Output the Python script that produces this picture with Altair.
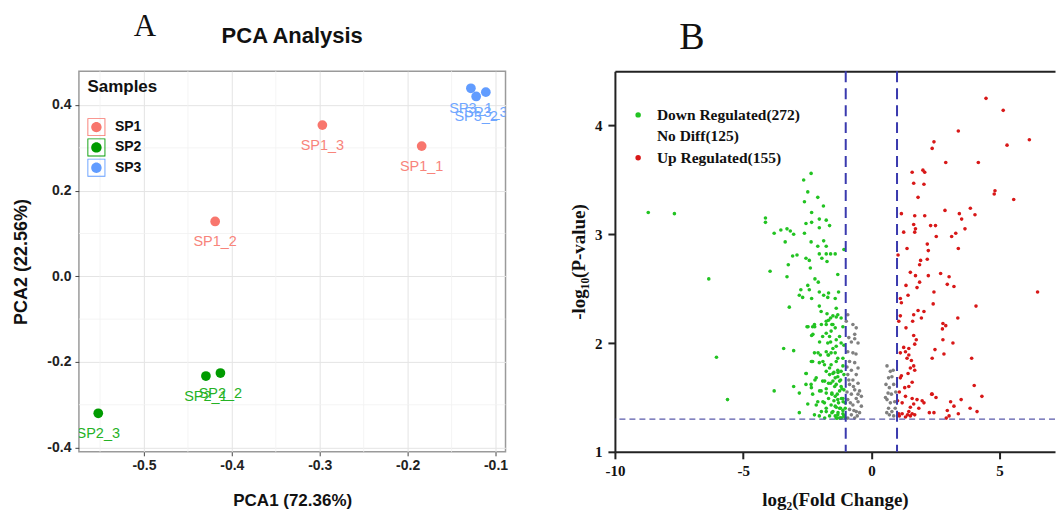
import altair as alt
import pandas as pd

SANS = "Liberation Sans"
SERIF = "Liberation Serif"

# ---------------- Panel A : PCA ----------------
pca_samples = ["SP1_1", "SP1_2", "SP1_3", "SP2_1", "SP2_2", "SP2_3", "SP3_1", "SP3_2", "SP3_3"]
pca_groups = ["SP1", "SP1", "SP1", "SP2", "SP2", "SP2", "SP3", "SP3", "SP3"]
pca1_vals = [-0.184, -0.419, -0.297, -0.4295, -0.413, -0.552, -0.128, -0.122, -0.111]
pca2_vals = [0.304, 0.128, 0.353, -0.233, -0.226, -0.320, 0.439, 0.420, 0.430]
group_names = ["SP1", "SP2", "SP3"]
group_colors = ["#F8766D", "#009B00", "#619CFF"]
group_label_colors = ["#F8847B", "#25B225", "#6FA6FF"]
pca_x_ticks = [-0.5, -0.4, -0.3, -0.2, -0.1]
pca_y_ticks = [-0.4, -0.2, 0.0, 0.2, 0.4]
pca_minor_x = [-0.55, -0.45, -0.35, -0.25, -0.15]
pca_minor_y = [-0.3, -0.1, 0.1, 0.3]

# ---------------- Panel B : volcano ----------------
DOWN_LABEL = "Down Regulated(272)"
NODIFF_LABEL = "\u00a0No Diff(125)"
UP_LABEL = "Up Regulated(155)"

down_pts = [
    (-8.70, 3.20), (-7.68, 3.19), (-6.34, 2.59), (-6.04, 1.87), (-5.61, 1.48), (-4.13, 3.15), (-4.13, 3.11),
    (-2.35, 3.56), (-2.64, 3.50), (-2.48, 3.39), (-2.61, 3.30), (-2.09, 3.34), (-1.87, 3.26), (-2.33, 3.20),
    (-2.33, 3.11), (-2.55, 3.10), (-2.03, 3.14), (-1.76, 3.13), (-1.63, 3.08), (-3.79, 3.01), (-3.53, 3.04),
    (-3.29, 3.05), (-3.16, 3.03), (-3.03, 3.00), (-2.61, 3.01), (-2.03, 3.06), (-2.35, 2.93), (-3.36, 2.93),
    (-1.86, 2.94), (-2.09, 2.89), (-1.76, 2.89), (-3.07, 2.80), (-2.90, 2.81), (-2.55, 2.78), (-2.42, 2.76),
    (-2.03, 2.82), (-1.93, 2.78), (-1.76, 2.82), (-1.59, 2.82), (-1.41, 2.82), (-1.07, 2.86), (-1.73, 2.75),
    (-3.95, 2.66), (-3.24, 2.72), (-3.29, 2.61), (-2.38, 2.69), (-1.31, 2.63), (-2.20, 2.59), (-2.07, 2.56),
    (-2.75, 2.49), (-2.81, 2.44), (-2.68, 2.42), (-2.48, 2.53), (-2.42, 2.49), (-2.03, 2.47), (-1.86, 2.44),
    (-1.67, 2.46), (-1.70, 2.42), (-1.28, 2.47), (-1.41, 2.41), (-2.33, 2.41), (-3.20, 2.33), (-2.03, 2.34),
    (-1.96, 2.29), (-1.73, 2.27), (-1.59, 2.23), (-1.50, 2.25), (-1.37, 2.32), (-1.31, 2.26), (-1.76, 2.20),
    (-1.76, 2.17), (-2.51, 2.15), (-2.29, 2.15), (-2.22, 2.17), (-1.50, 2.17), (-1.41, 2.14), (-1.57, 2.11),
    (-1.18, 2.23), (-1.11, 2.15), (-2.33, 2.07), (-1.90, 2.06), (-1.63, 2.06), (-1.37, 2.03), (-1.24, 2.06),
    (-1.70, 2.00), (-1.37, 1.97), (-1.18, 2.00), (-1.07, 1.98), (-3.42, 1.95), (-3.03, 1.93), (-1.76, 1.92),
    (-1.67, 1.89), (-1.57, 1.91), (-1.41, 1.91), (-2.22, 1.91), (-1.99, 1.89), (-1.31, 1.86), (-1.11, 1.86),
    (-2.29, 1.83), (-2.03, 1.82), (-1.83, 1.80), (-1.57, 1.80), (-1.37, 1.83), (-1.31, 1.75), (-1.11, 1.79),
    (-1.76, 1.74), (-1.63, 1.71), (-1.46, 1.73), (-1.18, 1.74), (-2.55, 1.72), (-1.31, 1.69), (-1.20, 1.66),
    (-1.07, 1.71), (-1.90, 1.65), (-1.67, 1.63), (-1.50, 1.65), (-1.37, 1.62), (-2.20, 1.66), (-2.35, 1.62),
    (-3.03, 1.60), (-2.55, 1.62), (-1.18, 1.60), (-1.07, 1.57), (-1.24, 1.56), (-1.96, 1.56), (-1.76, 1.54),
    (-1.54, 1.53), (-1.41, 1.51), (-3.79, 1.56), (-2.81, 1.54), (-2.29, 1.53), (-1.31, 1.48), (-1.11, 1.49),
    (-1.02, 1.45), (-2.09, 1.46), (-1.83, 1.45), (-1.57, 1.43), (-1.41, 1.42), (-2.48, 1.44), (-1.24, 1.40),
    (-1.11, 1.38), (-1.02, 1.40), (-1.76, 1.37), (-1.54, 1.36), (-1.31, 1.34), (-2.22, 1.34), (-2.03, 1.33),
    (-1.37, 1.31), (-1.20, 1.31), (-1.07, 1.33), (-1.02, 1.31), (-2.81, 1.36),
    (-1.50, 1.72), (-1.41, 1.68), (-1.30, 1.73), (-1.59, 1.63), (-1.43, 1.60), (-1.24, 1.65), (-1.15, 1.58),
    (-1.54, 1.54), (-1.33, 1.53), (-1.17, 1.49), (-1.46, 1.47), (-1.28, 1.45), (-1.10, 1.46), (-1.37, 1.41),
    (-1.20, 1.40), (-1.50, 1.37), (-1.30, 1.36), (-1.11, 1.35), (-1.41, 1.33), (-1.23, 1.31), (-1.07, 1.33),
    (-1.33, 1.31), (-1.17, 1.31), (-1.67, 1.49), (-1.76, 1.58), (-1.82, 1.65), (-1.63, 1.77), (-1.89, 1.83),
    (-1.69, 1.89), (-1.50, 1.95), (-1.59, 2.01), (-1.76, 2.09), (-1.54, 2.17), (-1.37, 2.24), (-1.67, 2.21),
    (-1.95, 2.17), (-2.21, 2.15), (-2.47, 2.15), (-2.28, 2.08), (-2.02, 2.01), (-2.08, 1.91), (-2.34, 1.83),
    (-2.54, 1.72), (-2.15, 1.68), (-2.34, 1.59), (-2.02, 1.56), (-1.89, 1.46), (-2.15, 1.43), (-1.76, 1.40),
    (-1.63, 1.33), (-1.82, 1.31), (-1.95, 1.37),
]

nodiff_pts = [
    (-0.92, 2.26), (-0.72, 2.17), (-0.59, 2.14), (-0.65, 2.08), (-0.78, 2.01), (-0.52, 2.00), (-0.92, 1.92),
    (-0.72, 1.91), (-0.85, 1.83), (-0.65, 1.82), (-0.52, 1.77), (-0.78, 1.75), (-0.92, 1.71), (-0.59, 1.71),
    (-0.72, 1.66), (-0.52, 1.63), (-0.85, 1.62), (-0.65, 1.57), (-0.46, 1.56), (-0.78, 1.53), (-0.59, 1.49),
    (-0.92, 1.48), (-0.52, 1.46), (-0.72, 1.43), (-0.39, 1.42), (-0.85, 1.39), (-0.59, 1.37), (-0.46, 1.36),
    (-0.78, 1.34), (-0.65, 1.31), (-0.92, 1.31), (-0.52, 1.53), (-0.39, 1.51), (-0.65, 2.04), (-0.98, 2.20),
    (-0.88, 2.05), (-0.95, 1.78), (-0.60, 1.90), (-0.70, 1.60), (-0.82, 1.45), (-0.55, 1.33), (-0.95, 1.55),
    (-0.68, 1.38), (-0.88, 1.66),
    (0.61, 1.79), (0.74, 1.74), (0.67, 1.68), (0.80, 1.69), (0.57, 1.62), (0.70, 1.59), (0.87, 1.62),
    (0.65, 1.54), (0.78, 1.53), (0.61, 1.48), (0.74, 1.45), (0.91, 1.46), (0.67, 1.40), (0.80, 1.37),
    (0.93, 1.40), (0.70, 1.34), (0.87, 1.33), (0.55, 1.50), (0.95, 1.55), (0.85, 1.75), (0.60, 1.36),
]

up_pts = [
    (2.44, 3.85), (2.37, 3.79), (2.90, 3.66), (1.59, 3.57), (2.01, 3.59), (2.08, 3.57), (1.65, 3.47),
    (2.05, 3.46), (1.82, 3.34), (1.17, 3.19), (1.69, 3.17), (2.08, 3.17), (2.87, 3.22), (1.26, 3.02),
    (1.65, 3.09), (1.72, 3.05), (1.69, 3.02), (2.31, 3.08), (2.50, 3.08), (2.53, 2.98), (3.13, 2.98),
    (3.29, 3.01), (1.39, 2.87), (2.18, 2.91), (2.22, 2.85), (1.04, 2.81), (1.92, 2.76), (1.88, 2.72),
    (2.18, 2.77), (1.52, 2.65), (1.72, 2.62), (2.22, 2.62), (2.70, 2.64), (3.03, 2.61), (2.96, 2.54),
    (3.22, 2.52), (1.88, 2.56), (1.78, 2.51), (1.35, 2.53), (1.43, 2.44), (2.44, 2.47), (2.41, 2.36),
    (1.13, 2.41), (1.17, 2.37), (1.82, 2.30), (1.65, 2.26), (2.05, 2.29), (1.13, 2.25), (1.07, 2.20),
    (1.61, 2.20), (1.95, 2.23), (2.79, 2.18), (2.90, 2.16), (2.77, 2.13), (1.35, 2.14), (1.65, 2.07),
    (1.75, 2.03), (1.69, 1.99), (2.79, 2.03), (3.18, 2.00), (1.26, 1.96), (1.46, 1.95), (1.33, 1.92),
    (1.13, 1.91), (1.46, 1.89), (1.39, 1.86), (1.56, 1.84), (1.65, 1.79), (1.52, 1.77), (1.69, 1.75),
    (1.43, 1.72), (2.48, 1.94), (2.37, 1.86), (1.17, 1.70), (1.13, 1.68), (1.59, 1.64), (1.46, 1.60),
    (1.30, 1.59), (1.09, 1.55), (1.33, 1.51), (1.59, 1.49), (1.02, 1.47), (1.20, 1.45), (1.78, 1.48),
    (1.98, 1.47), (2.05, 1.45), (1.65, 1.44), (1.52, 1.41), (1.46, 1.37), (1.85, 1.40), (2.35, 1.53),
    (1.69, 1.34), (1.41, 1.34), (1.20, 1.35), (1.07, 1.35), (1.59, 1.35), (3.09, 1.46), (3.22, 1.42),
    (2.96, 1.38), (3.03, 1.33), (1.09, 1.33), (1.33, 1.32), (1.52, 1.33), (2.44, 1.36), (2.37, 1.53),
    (2.83, 1.90), (2.52, 1.50), (2.26, 1.36), (2.92, 1.31),
    (4.47, 4.25), (5.14, 4.14), (3.39, 3.95), (5.29, 3.82), (6.16, 3.87), (4.17, 3.66), (4.82, 3.40),
    (4.79, 3.37), (5.55, 3.32), (3.86, 3.24), (4.04, 3.18), (3.43, 3.19), (3.52, 3.14), (3.65, 3.05),
    (3.39, 2.87), (6.48, 2.47), (4.08, 2.34), (3.37, 2.23), (3.91, 1.86), (4.01, 1.61), (4.31, 1.51),
    (3.50, 1.48), (3.85, 1.40), (4.12, 1.37), (3.39, 1.35),
]

fc_thresholds = [-1, 1]
p_threshold = [1.301]
volcano_x_ticks = [-10, -5, 0, 5]
volcano_y_ticks = [1, 2, 3, 4]

# ================= Panel A =================
A_WIDTH = 427
PANEL_SPACING = 109.5

pca_df = pd.DataFrame({"sample": pca_samples, "group": pca_groups, "PCA1": pca1_vals, "PCA2": pca2_vals})
minor_x_df = pd.DataFrame({"PCA1": pca_minor_x})
minor_y_df = pd.DataFrame({"PCA2": pca_minor_y})

neg_fmt1 = "datum.value < 0 ? '-' + format(-datum.value, '.1f') : format(datum.value, '.1f')"

xsA = alt.Scale(domain=[-0.574, -0.0886], nice=False, zero=False)
ysA = alt.Scale(domain=[-0.41, 0.479], nice=False, zero=False)

axA_x = alt.Axis(values=pca_x_ticks, labelExpr=neg_fmt1, title="PCA1 (72.36%)", titleFont=SANS,
                 titleFontSize=17, titleFontWeight="bold", titleColor="#111", titlePadding=20,
                 labelFont=SANS, labelFontSize=14, labelFontWeight="bold", labelColor="#222",
                 labelPadding=3, labelFlush=False, tickSize=4, tickColor="#444", tickWidth=1,
                 domain=False, grid=True, gridColor="#e4e4e4", gridWidth=1)
axA_y = alt.Axis(values=pca_y_ticks, labelExpr=neg_fmt1, title="PCA2 (22.56%)", titleFont=SANS,
                 titleFontSize=18, titleFontWeight="bold", titleColor="#111", titlePadding=16,
                 labelFont=SANS, labelFontSize=14, labelFontWeight="bold", labelColor="#222",
                 labelPadding=4, labelFlush=False, tickSize=4, tickColor="#444", tickWidth=1,
                 domain=False, grid=True, gridColor="#e4e4e4", gridWidth=1)

def xA():
    return alt.X("PCA1:Q", scale=xsA, axis=axA_x)

def yA():
    return alt.Y("PCA2:Q", scale=ysA, axis=axA_y)

legend_symbol = ("M-1,-1H1V1H-1Z M-0.9,-0.9V0.9H0.9V-0.9Z "
                 "M0.58,0A0.58,0.58,0,1,1,-0.58,0A0.58,0.58,0,1,1,0.58,0Z")

minorA_x = alt.Chart(minor_x_df).mark_rule(color="#f1f1f1", strokeWidth=0.8).encode(x=xA())
minorA_y = alt.Chart(minor_y_df).mark_rule(color="#f1f1f1", strokeWidth=0.8).encode(y=yA())

pointsA = alt.Chart(pca_df).mark_circle(size=95, opacity=1).encode(
    x=xA(), y=yA(),
    color=alt.Color("group:N", scale=alt.Scale(domain=group_names, range=group_colors),
                    legend=alt.Legend(title="Samples", orient="none", legendX=8.5, legendY=8,
                                      titleFont=SANS, titleFontSize=17, titleFontWeight="bold",
                                      titleColor="#111", titlePadding=22, labelFont=SANS,
                                      labelFontSize=14, labelFontWeight="bold", labelColor="#111",
                                      labelOffset=9.5, symbolSize=324, symbolType=legend_symbol,
                                      symbolStrokeWidth=0, rowPadding=2.3, padding=0)),
)
labelsA = alt.Chart(pca_df).mark_text(dy=21, fontSize=14.5, font=SANS, clip=True, baseline="middle").encode(
    x=xA(), y=yA(), text="sample:N",
    color=alt.Color("group:N", scale=alt.Scale(domain=group_names, range=group_label_colors), legend=None),
)

header_df = pd.DataFrame({"t": ["A"]})
letterA = alt.Chart(header_df).mark_text(font=SERIF, fontSize=31, baseline="middle", align="center",
                                         color="#111").encode(x=alt.value(66), y=alt.value(-44), text="t:N")
title_df = pd.DataFrame({"t": ["PCA Analysis"]})
titleA = alt.Chart(title_df).mark_text(font=SANS, fontSize=22, fontWeight="bold", baseline="alphabetic",
                                       align="center", color="#111").encode(
    x=alt.value(213.5), y=alt.value(-28.5), text="t:N")

panelA = alt.layer(minorA_x, minorA_y, pointsA, labelsA, letterA, titleA).resolve_scale(
    color="independent").properties(width=A_WIDTH, height=381,
                                    view=alt.ViewBackground(stroke="#9a9a9a", strokeWidth=1.5))

# ================= Panel B =================
rows = []
for x, y in down_pts:
    rows.append({"fc": x, "p": y, "status": DOWN_LABEL})
for x, y in up_pts:
    rows.append({"fc": x, "p": y, "status": UP_LABEL})
sig_df = pd.DataFrame(rows)
nodiff_df = pd.DataFrame({"fc": [p[0] for p in nodiff_pts], "p": [p[1] for p in nodiff_pts]})
vthr_df = pd.DataFrame({"fc": fc_thresholds})
hthr_df = pd.DataFrame({"p": p_threshold})

neg_fmt0 = "datum.value < 0 ? '-' + format(-datum.value, 'd') : format(datum.value, 'd')"
xsB = alt.Scale(domain=[-10, 7.16], nice=False, zero=False)
ysB = alt.Scale(domain=[1, 4.5], nice=False, zero=False)

axB_x = alt.Axis(values=volcano_x_ticks, labelExpr=neg_fmt0, title="log₂(Fold Change)", titleFont=SERIF,
                 titleFontSize=19, titleFontWeight="bold", titleColor="#111", titlePadding=12,
                 labelFont=SERIF, labelFontSize=15, labelFontWeight="bold", labelColor="#111",
                 labelPadding=5, labelFlush=False, tickSize=7, tickWidth=2, tickColor="#222",
                 domainColor="#222", domainWidth=2, grid=False)
axB_top = alt.Axis(orient="top", labels=False, ticks=False, domain=True, domainColor="#222",
                   domainWidth=2, grid=False, title="")
axB_y = alt.Axis(values=volcano_y_ticks, labelExpr=neg_fmt0, title="-log₁₀(P-value)", titleFont=SERIF,
                 titleFontSize=19, titleFontWeight="bold", titleColor="#111", titlePadding=6,
                 labelFont=SERIF, labelFontSize=15, labelFontWeight="bold", labelColor="#111",
                 labelPadding=6, labelFlush=False, tickSize=7, tickWidth=2, tickColor="#222",
                 domainColor="#222", domainWidth=2, grid=False)

# legends of concatenated views are placed in the outer layout, so offset by panel A's width + spacing
B_LEGEND_X = A_WIDTH + PANEL_SPACING + 15.5

nodiffB = alt.Chart(nodiff_df).mark_circle(size=13, opacity=1, color="#808080", clip=True).encode(
    x=alt.X("fc:Q", scale=xsB, axis=axB_top), y=alt.Y("p:Q", scale=ysB, axis=axB_y))
sigB = alt.Chart(sig_df).mark_circle(size=13, opacity=1, clip=True).encode(
    x=alt.X("fc:Q", scale=xsB, axis=axB_x), y=alt.Y("p:Q", scale=ysB, axis=axB_y),
    color=alt.Color("status:N", scale=alt.Scale(domain=[DOWN_LABEL, NODIFF_LABEL, UP_LABEL],
                                                range=["#22c322", "transparent", "#d81818"]),
                    legend=alt.Legend(title=None, orient="none", legendX=B_LEGEND_X, legendY=36,
                                      labelFont=SERIF, labelFontSize=15.5, labelFontWeight="bold",
                                      labelColor="#111", labelOffset=11, symbolSize=30,
                                      symbolType="circle", symbolStrokeWidth=0, rowPadding=4.5,
                                      padding=0)),
)
vruleB = alt.Chart(vthr_df).mark_rule(color="#3a3aae", strokeWidth=2, strokeDash=[11, 6]).encode(
    x=alt.X("fc:Q", scale=xsB, axis=None))
hruleB = alt.Chart(hthr_df).mark_rule(color="#5a5aaa", strokeWidth=1.2, strokeDash=[6, 4]).encode(
    y=alt.Y("p:Q", scale=ysB, axis=axB_y))
letter_df = pd.DataFrame({"t": ["B"]})
letterB = alt.Chart(letter_df).mark_text(font=SERIF, fontSize=38, baseline="middle", align="center",
                                         color="#111").encode(x=alt.value(77), y=alt.value(-33), text="t:N")

panelB = alt.layer(nodiffB, sigB, hruleB, vruleB, letterB).resolve_axis(x="independent").properties(
    width=440.5, height=381, view=alt.ViewBackground(stroke="transparent"))

chart = alt.hconcat(panelA, panelB, spacing=PANEL_SPACING, bounds="flush").properties(
    padding={"left": 12, "top": 10, "right": 0, "bottom": 0}
).configure(background="white")

chart.save("out.html", embed_options={"renderer": "svg", "actions": False})
